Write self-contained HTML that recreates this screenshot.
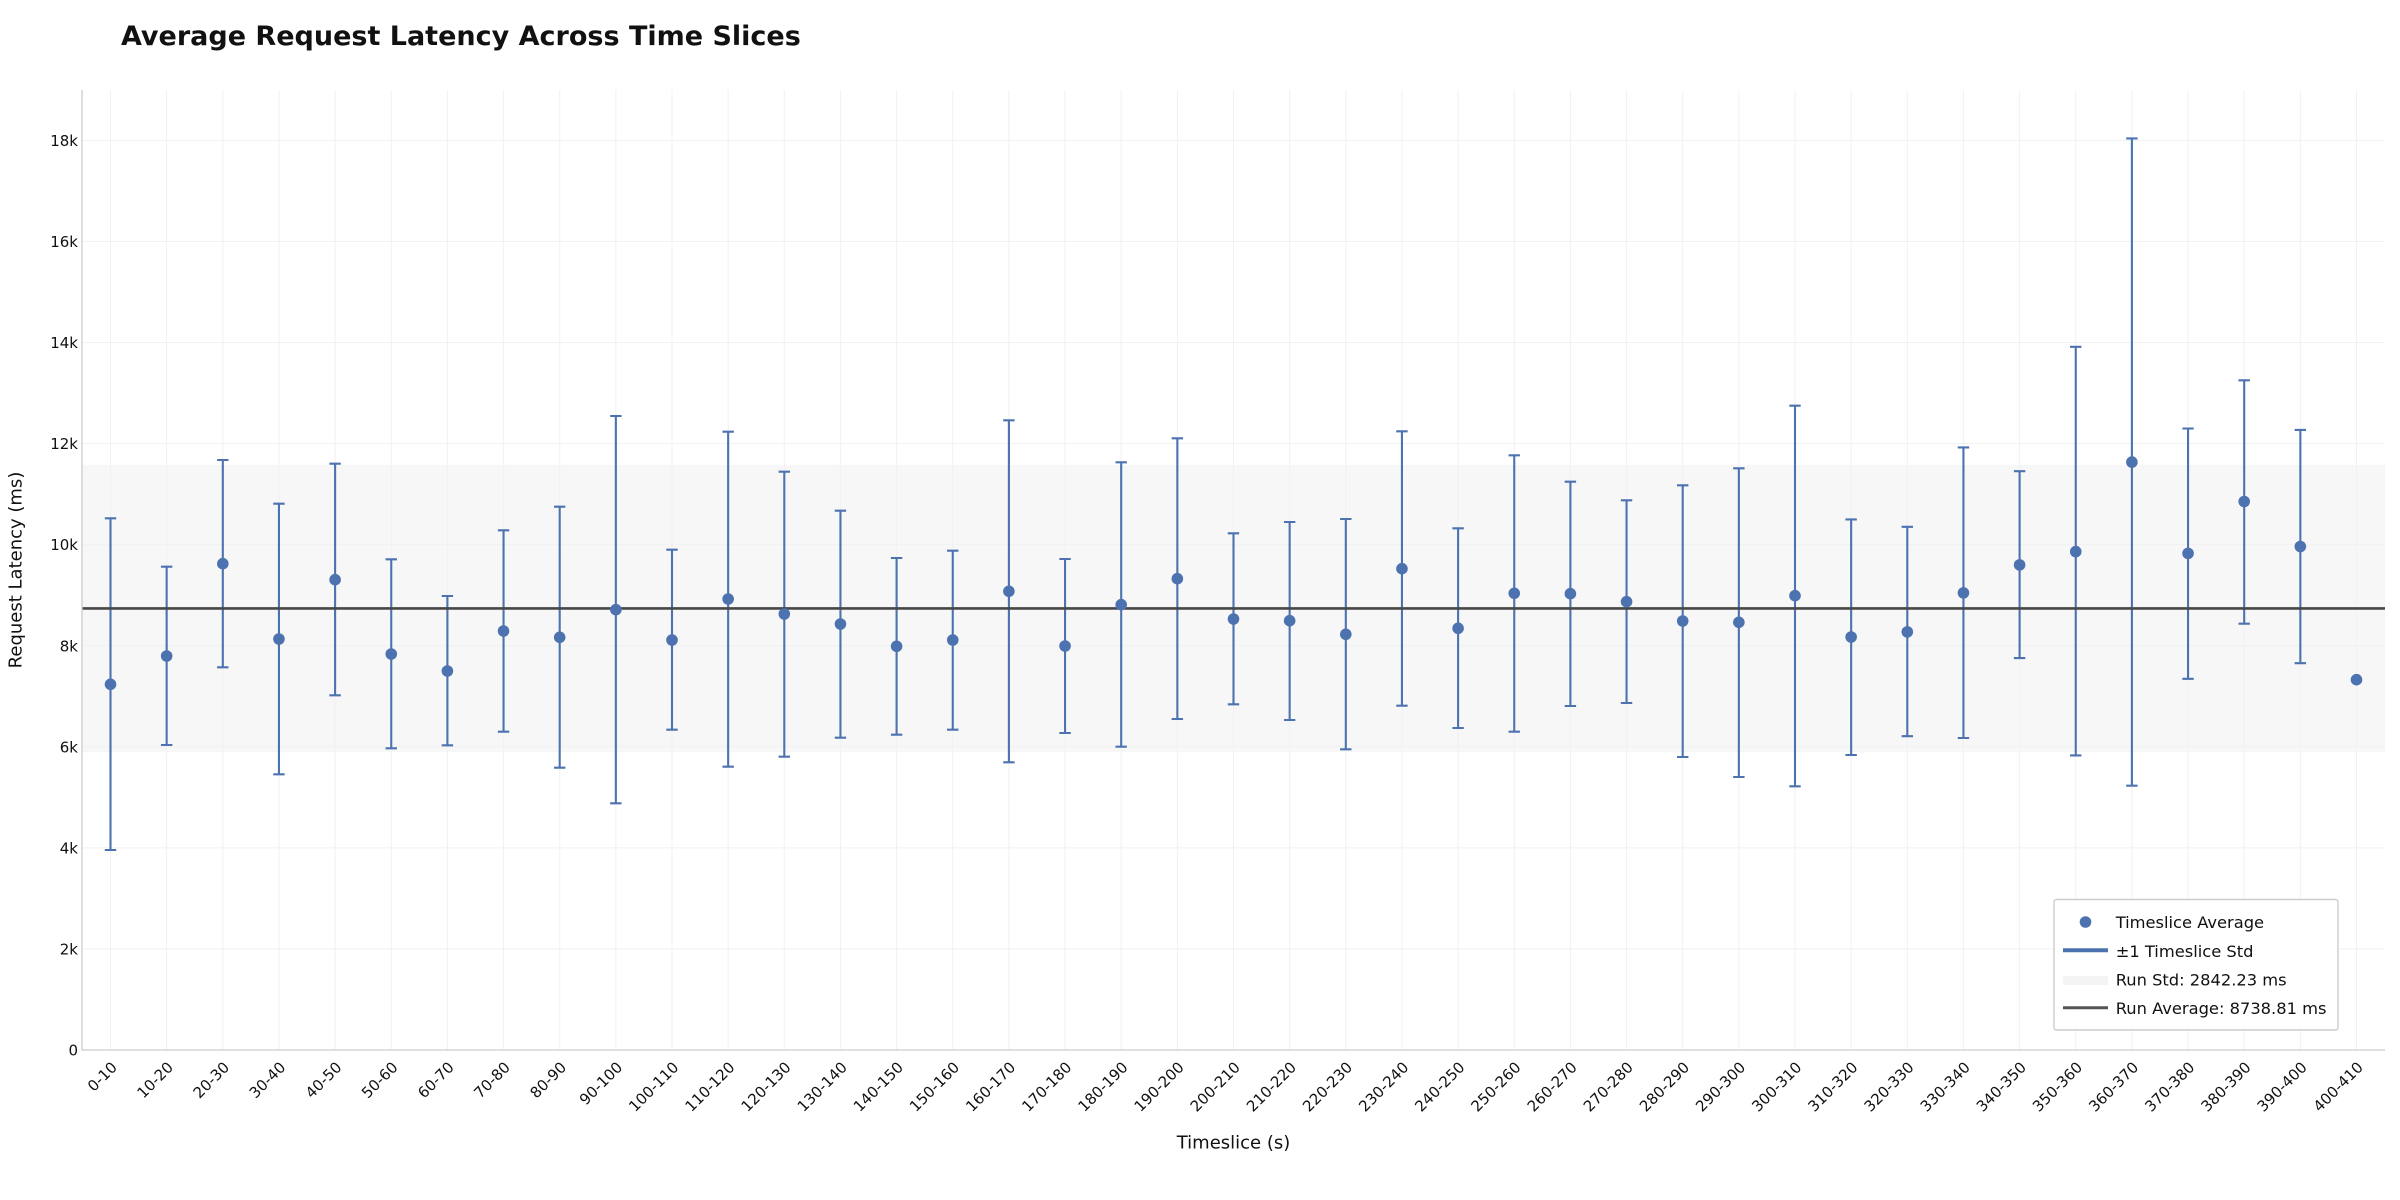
<!DOCTYPE html>
<html>
<head>
<meta charset="utf-8">
<style>
html,body{margin:0;padding:0;background:#fff;}
svg{display:block;}
text{font-family:"DejaVu Sans","Liberation Sans",sans-serif;fill:#111;}
</style>
</head>
<body>
<svg width="2400" height="1200" viewBox="0 0 2400 1200" xmlns="http://www.w3.org/2000/svg">
<rect x="0" y="0" width="2400" height="1200" fill="#fff"/>

<!-- run std band -->
<rect x="82" y="464.8" width="2303" height="287.3" fill="#f7f7f7"/>

<!-- grid -->
<g stroke="#f1f1f1" stroke-width="1" fill="none">
<path d="M82 948.9H2385M82 847.9H2385M82 746.8H2385M82 645.8H2385M82 544.7H2385M82 443.6H2385M82 342.6H2385M82 241.5H2385M82 140.5H2385"/>
<path d="M110.5 90V1050M166.65 90V1050M222.8 90V1050M278.95 90V1050M335.1 90V1050M391.25 90V1050M447.4 90V1050M503.55 90V1050M559.7 90V1050M615.85 90V1050M672 90V1050M728.15 90V1050M784.3 90V1050M840.45 90V1050M896.6 90V1050M952.75 90V1050M1008.9 90V1050M1065.05 90V1050M1121.2 90V1050M1177.35 90V1050M1233.5 90V1050M1289.65 90V1050M1345.8 90V1050M1401.95 90V1050M1458.1 90V1050M1514.25 90V1050M1570.4 90V1050M1626.55 90V1050M1682.7 90V1050M1738.85 90V1050M1795 90V1050M1851.15 90V1050M1907.3 90V1050M1963.45 90V1050M2019.6 90V1050M2075.75 90V1050M2131.9 90V1050M2188.05 90V1050M2244.2 90V1050M2300.35 90V1050M2356.5 90V1050"/>
</g>

<!-- error bars -->
<g stroke="#4c72b0" stroke-width="2.1" fill="none">
<path d="M110.5 518.3V850M104.8 518.3h11.4M104.8 850h11.4"/>
<path d="M166.65 566.7V745M160.95 566.7h11.4M160.95 745h11.4"/>
<path d="M222.8 460V667.3M217.1 460h11.4M217.1 667.3h11.4"/>
<path d="M278.95 503.7V774.3M273.25 503.7h11.4M273.25 774.3h11.4"/>
<path d="M335.1 463.7V695.3M329.4 463.7h11.4M329.4 695.3h11.4"/>
<path d="M391.25 559.3V748.3M385.55 559.3h11.4M385.55 748.3h11.4"/>
<path d="M447.4 596V745.3M441.7 596h11.4M441.7 745.3h11.4"/>
<path d="M503.55 530.3V731.7M497.85 530.3h11.4M497.85 731.7h11.4"/>
<path d="M559.7 506.7V767.7M554 506.7h11.4M554 767.7h11.4"/>
<path d="M615.85 416V803.3M610.15 416h11.4M610.15 803.3h11.4"/>
<path d="M672 549.7V729.7M666.3 549.7h11.4M666.3 729.7h11.4"/>
<path d="M728.15 431.7V766.7M722.45 431.7h11.4M722.45 766.7h11.4"/>
<path d="M784.3 471.7V756.7M778.6 471.7h11.4M778.6 756.7h11.4"/>
<path d="M840.45 510.7V737.7M834.75 510.7h11.4M834.75 737.7h11.4"/>
<path d="M896.6 558V734.7M890.9 558h11.4M890.9 734.7h11.4"/>
<path d="M952.75 550.7V729.7M947.05 550.7h11.4M947.05 729.7h11.4"/>
<path d="M1008.9 420.3V762.3M1003.2 420.3h11.4M1003.2 762.3h11.4"/>
<path d="M1065.05 559V733M1059.35 559h11.4M1059.35 733h11.4"/>
<path d="M1121.2 462.3V746.7M1115.5 462.3h11.4M1115.5 746.7h11.4"/>
<path d="M1177.35 438.3V719M1171.65 438.3h11.4M1171.65 719h11.4"/>
<path d="M1233.5 533.3V704.3M1227.8 533.3h11.4M1227.8 704.3h11.4"/>
<path d="M1289.65 522V720M1283.95 522h11.4M1283.95 720h11.4"/>
<path d="M1345.8 519V749.3M1340.1 519h11.4M1340.1 749.3h11.4"/>
<path d="M1401.95 431.3V705.7M1396.25 431.3h11.4M1396.25 705.7h11.4"/>
<path d="M1458.1 528.3V728M1452.4 528.3h11.4M1452.4 728h11.4"/>
<path d="M1514.25 455.3V731.7M1508.55 455.3h11.4M1508.55 731.7h11.4"/>
<path d="M1570.4 481.7V706M1564.7 481.7h11.4M1564.7 706h11.4"/>
<path d="M1626.55 500.3V703M1620.85 500.3h11.4M1620.85 703h11.4"/>
<path d="M1682.7 485.3V757M1677 485.3h11.4M1677 757h11.4"/>
<path d="M1738.85 468.3V777M1733.15 468.3h11.4M1733.15 777h11.4"/>
<path d="M1795 405.7V786.3M1789.3 405.7h11.4M1789.3 786.3h11.4"/>
<path d="M1851.15 519.4V755M1845.45 519.4h11.4M1845.45 755h11.4"/>
<path d="M1907.3 526.8V736.2M1901.6 526.8h11.4M1901.6 736.2h11.4"/>
<path d="M1963.45 447.4V738M1957.75 447.4h11.4M1957.75 738h11.4"/>
<path d="M2019.6 471.2V658.1M2013.9 471.2h11.4M2013.9 658.1h11.4"/>
<path d="M2075.75 346.8V755.4M2070.05 346.8h11.4M2070.05 755.4h11.4"/>
<path d="M2131.9 138.4V785.7M2126.2 138.4h11.4M2126.2 785.7h11.4"/>
<path d="M2188.05 428.5V678.8M2182.35 428.5h11.4M2182.35 678.8h11.4"/>
<path d="M2244.2 380.3V623.7M2238.5 380.3h11.4M2238.5 623.7h11.4"/>
<path d="M2300.35 429.9V663.2M2294.65 429.9h11.4M2294.65 663.2h11.4"/>
</g>

<!-- run average line -->
<line x1="82" y1="608.4" x2="2385" y2="608.4" stroke="#474747" stroke-width="2.6"/>

<!-- markers -->
<g fill="#4c72b0">
<circle cx="110.5" cy="684.3" r="5.8"/>
<circle cx="166.65" cy="656" r="5.8"/>
<circle cx="222.8" cy="563.7" r="5.8"/>
<circle cx="278.95" cy="639" r="5.8"/>
<circle cx="335.1" cy="579.7" r="5.8"/>
<circle cx="391.25" cy="654" r="5.8"/>
<circle cx="447.4" cy="671" r="5.8"/>
<circle cx="503.55" cy="631" r="5.8"/>
<circle cx="559.7" cy="637.3" r="5.8"/>
<circle cx="615.85" cy="609.7" r="5.8"/>
<circle cx="672" cy="640" r="5.8"/>
<circle cx="728.15" cy="599" r="5.8"/>
<circle cx="784.3" cy="614" r="5.8"/>
<circle cx="840.45" cy="624" r="5.8"/>
<circle cx="896.6" cy="646.3" r="5.8"/>
<circle cx="952.75" cy="640" r="5.8"/>
<circle cx="1008.9" cy="591.3" r="5.8"/>
<circle cx="1065.05" cy="646" r="5.8"/>
<circle cx="1121.2" cy="604.7" r="5.8"/>
<circle cx="1177.35" cy="578.7" r="5.8"/>
<circle cx="1233.5" cy="619" r="5.8"/>
<circle cx="1289.65" cy="620.7" r="5.8"/>
<circle cx="1345.8" cy="634.3" r="5.8"/>
<circle cx="1401.95" cy="568.7" r="5.8"/>
<circle cx="1458.1" cy="628.3" r="5.8"/>
<circle cx="1514.25" cy="593.3" r="5.8"/>
<circle cx="1570.4" cy="593.7" r="5.8"/>
<circle cx="1626.55" cy="601.7" r="5.8"/>
<circle cx="1682.7" cy="621" r="5.8"/>
<circle cx="1738.85" cy="622.3" r="5.8"/>
<circle cx="1795" cy="595.7" r="5.8"/>
<circle cx="1851.15" cy="637" r="5.8"/>
<circle cx="1907.3" cy="631.9" r="5.8"/>
<circle cx="1963.45" cy="592.9" r="5.8"/>
<circle cx="2019.6" cy="564.9" r="5.8"/>
<circle cx="2075.75" cy="551.6" r="5.8"/>
<circle cx="2131.9" cy="462.1" r="5.8"/>
<circle cx="2188.05" cy="553.4" r="5.8"/>
<circle cx="2244.2" cy="501.5" r="5.8"/>
<circle cx="2300.35" cy="546.5" r="5.8"/>
<circle cx="2356.5" cy="679.7" r="5.8"/>
</g>

<!-- spines -->
<g stroke="#cccccc" stroke-width="1.3">
<line x1="82" y1="90" x2="82" y2="1050.6"/>
<line x1="81.4" y1="1050" x2="2385" y2="1050"/>
</g>

<!-- y tick labels -->
<g font-size="15" text-anchor="end">
<text x="78" y="1055.5">0</text>
<text x="78" y="954.4">2k</text>
<text x="78" y="853.4">4k</text>
<text x="78" y="752.3">6k</text>
<text x="78" y="651.3">8k</text>
<text x="78" y="550.2">10k</text>
<text x="78" y="449.1">12k</text>
<text x="78" y="348.1">14k</text>
<text x="78" y="247">16k</text>
<text x="78" y="146">18k</text>
</g>

<!-- x tick labels -->
<g font-size="15" text-anchor="end">
<text transform="translate(118,1068.3) rotate(-45)">0-10</text>
<text transform="translate(174.15,1068.3) rotate(-45)">10-20</text>
<text transform="translate(230.3,1068.3) rotate(-45)">20-30</text>
<text transform="translate(286.45,1068.3) rotate(-45)">30-40</text>
<text transform="translate(342.6,1068.3) rotate(-45)">40-50</text>
<text transform="translate(398.75,1068.3) rotate(-45)">50-60</text>
<text transform="translate(454.9,1068.3) rotate(-45)">60-70</text>
<text transform="translate(511.05,1068.3) rotate(-45)">70-80</text>
<text transform="translate(567.2,1068.3) rotate(-45)">80-90</text>
<text transform="translate(623.35,1068.3) rotate(-45)">90-100</text>
<text transform="translate(679.5,1068.3) rotate(-45)">100-110</text>
<text transform="translate(735.65,1068.3) rotate(-45)">110-120</text>
<text transform="translate(791.8,1068.3) rotate(-45)">120-130</text>
<text transform="translate(847.95,1068.3) rotate(-45)">130-140</text>
<text transform="translate(904.1,1068.3) rotate(-45)">140-150</text>
<text transform="translate(960.25,1068.3) rotate(-45)">150-160</text>
<text transform="translate(1016.4,1068.3) rotate(-45)">160-170</text>
<text transform="translate(1072.55,1068.3) rotate(-45)">170-180</text>
<text transform="translate(1128.7,1068.3) rotate(-45)">180-190</text>
<text transform="translate(1184.85,1068.3) rotate(-45)">190-200</text>
<text transform="translate(1241,1068.3) rotate(-45)">200-210</text>
<text transform="translate(1297.15,1068.3) rotate(-45)">210-220</text>
<text transform="translate(1353.3,1068.3) rotate(-45)">220-230</text>
<text transform="translate(1409.45,1068.3) rotate(-45)">230-240</text>
<text transform="translate(1465.6,1068.3) rotate(-45)">240-250</text>
<text transform="translate(1521.75,1068.3) rotate(-45)">250-260</text>
<text transform="translate(1577.9,1068.3) rotate(-45)">260-270</text>
<text transform="translate(1634.05,1068.3) rotate(-45)">270-280</text>
<text transform="translate(1690.2,1068.3) rotate(-45)">280-290</text>
<text transform="translate(1746.35,1068.3) rotate(-45)">290-300</text>
<text transform="translate(1802.5,1068.3) rotate(-45)">300-310</text>
<text transform="translate(1858.65,1068.3) rotate(-45)">310-320</text>
<text transform="translate(1914.8,1068.3) rotate(-45)">320-330</text>
<text transform="translate(1970.95,1068.3) rotate(-45)">330-340</text>
<text transform="translate(2027.1,1068.3) rotate(-45)">340-350</text>
<text transform="translate(2083.25,1068.3) rotate(-45)">350-360</text>
<text transform="translate(2139.4,1068.3) rotate(-45)">360-370</text>
<text transform="translate(2195.55,1068.3) rotate(-45)">370-380</text>
<text transform="translate(2251.7,1068.3) rotate(-45)">380-390</text>
<text transform="translate(2307.85,1068.3) rotate(-45)">390-400</text>
<text transform="translate(2364,1068.3) rotate(-45)">400-410</text>
</g>

<!-- axis labels -->
<text x="1233.5" y="1148.3" font-size="18" text-anchor="middle">Timeslice (s)</text>
<text transform="translate(21.5,570) rotate(-90)" font-size="18" text-anchor="middle">Request Latency (ms)</text>

<!-- title -->
<text x="121" y="45" font-size="27" font-weight="bold" fill="#000">Average Request Latency Across Time Slices</text>

<!-- legend -->
<rect x="2054" y="899.5" width="284" height="130.5" rx="2.5" fill="#fff" fill-opacity="0.9" stroke="#cccccc" stroke-width="1.4"/>
<circle cx="2085.5" cy="922" r="5.8" fill="#4c72b0"/>
<line x1="2063" y1="950.3" x2="2108" y2="950.3" stroke="#4c72b0" stroke-width="4"/>
<rect x="2063" y="976" width="45" height="9" fill="#f4f4f4"/>
<line x1="2063" y1="1007.7" x2="2108" y2="1007.7" stroke="#555555" stroke-width="3"/>
<g font-size="16.3">
<text x="2115.7" y="928.2">Timeslice Average</text>
<text x="2115.7" y="956.8">±1 Timeslice Std</text>
<text x="2115.7" y="985.4">Run Std: 2842.23 ms</text>
<text x="2115.7" y="1014">Run Average: 8738.81 ms</text>
</g>
</svg>
</body>
</html>
